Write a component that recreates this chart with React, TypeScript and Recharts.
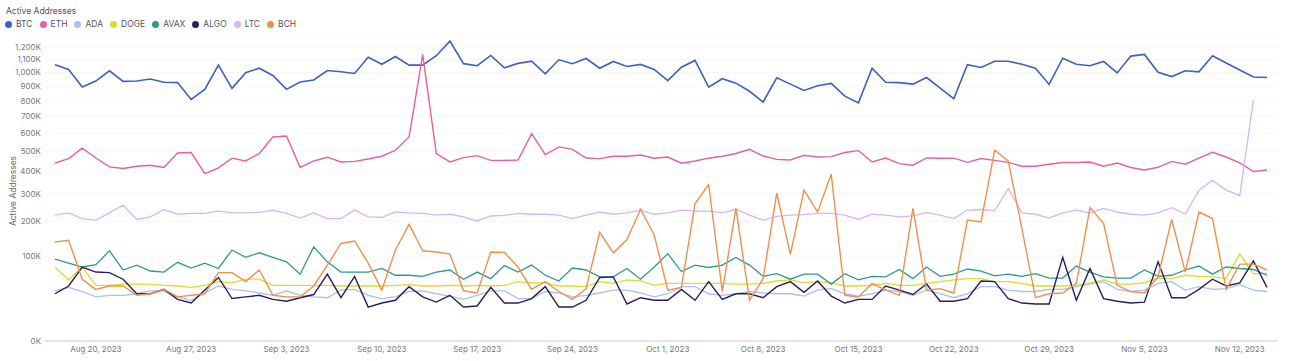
import { LineChart, Line, XAxis, YAxis, CartesianGrid } from "recharts";

// daily, Aug 17 2023 .. Nov 14 2023 (values in thousands of addresses)
const dates = [
  "Aug 17, 2023", "Aug 18, 2023", "Aug 19, 2023", "Aug 20, 2023", "Aug 21, 2023", "Aug 22, 2023", "Aug 23, 2023",
  "Aug 24, 2023", "Aug 25, 2023", "Aug 26, 2023", "Aug 27, 2023", "Aug 28, 2023", "Aug 29, 2023", "Aug 30, 2023",
  "Aug 31, 2023", "Sep 1, 2023", "Sep 2, 2023", "Sep 3, 2023", "Sep 4, 2023", "Sep 5, 2023", "Sep 6, 2023",
  "Sep 7, 2023", "Sep 8, 2023", "Sep 9, 2023", "Sep 10, 2023", "Sep 11, 2023", "Sep 12, 2023", "Sep 13, 2023",
  "Sep 14, 2023", "Sep 15, 2023", "Sep 16, 2023", "Sep 17, 2023", "Sep 18, 2023", "Sep 19, 2023", "Sep 20, 2023",
  "Sep 21, 2023", "Sep 22, 2023", "Sep 23, 2023", "Sep 24, 2023", "Sep 25, 2023", "Sep 26, 2023", "Sep 27, 2023",
  "Sep 28, 2023", "Sep 29, 2023", "Sep 30, 2023", "Oct 1, 2023", "Oct 2, 2023", "Oct 3, 2023", "Oct 4, 2023",
  "Oct 5, 2023", "Oct 6, 2023", "Oct 7, 2023", "Oct 8, 2023", "Oct 9, 2023", "Oct 10, 2023", "Oct 11, 2023",
  "Oct 12, 2023", "Oct 13, 2023", "Oct 14, 2023", "Oct 15, 2023", "Oct 16, 2023", "Oct 17, 2023", "Oct 18, 2023",
  "Oct 19, 2023", "Oct 20, 2023", "Oct 21, 2023", "Oct 22, 2023", "Oct 23, 2023", "Oct 24, 2023", "Oct 25, 2023",
  "Oct 26, 2023", "Oct 27, 2023", "Oct 28, 2023", "Oct 29, 2023", "Oct 30, 2023", "Oct 31, 2023", "Nov 1, 2023",
  "Nov 2, 2023", "Nov 3, 2023", "Nov 4, 2023", "Nov 5, 2023", "Nov 6, 2023", "Nov 7, 2023", "Nov 8, 2023",
  "Nov 9, 2023", "Nov 10, 2023", "Nov 11, 2023", "Nov 12, 2023", "Nov 13, 2023", "Nov 14, 2023",
];

const tickDates = [
  "Aug 20, 2023", "Aug 27, 2023", "Sep 3, 2023", "Sep 10, 2023", "Sep 17, 2023", "Sep 24, 2023", "Oct 1, 2023",
  "Oct 8, 2023", "Oct 15, 2023", "Oct 22, 2023", "Oct 29, 2023", "Nov 5, 2023", "Nov 12, 2023",
];

const yTicks = [0, 100, 200, 300, 400, 500, 600, 700, 800, 900, 1000, 1100, 1200];

const btc = [
  1060, 1024, 895, 938, 1014, 936, 938, 953, 929, 927, 810, 879, 1057, 886, 1000, 1033, 979, 879, 931, 946,
  1016, 1006, 994, 1118, 1063, 1124, 1057, 1057, 1130, 1248, 1068, 1052, 1132, 1036, 1070, 1087, 991, 1098, 1068, 1108,
  1033, 1085, 1046, 1062, 1024, 941, 1041, 1093, 895, 955, 923, 866, 793, 962, 916, 872, 905, 921, 832, 787,
  1033, 929, 927, 916, 964, 888, 815, 1060, 1039, 1087, 1087, 1063, 1033, 914, 1110, 1063, 1052, 1085, 998, 1127,
  1140, 1003, 971, 1014, 1006, 1130, 1073, 1019, 968, 964,
];

const eth = [
  440, 462, 516, 465, 421, 413, 424, 429, 418, 491, 493, 389, 416, 464, 450, 488, 578, 583, 418, 450,
  469, 445, 448, 460, 474, 505, 578, 1140, 488, 445, 467, 477, 453, 452, 455, 597, 482, 523, 510, 465,
  462, 474, 474, 480, 464, 470, 439, 450, 464, 474, 488, 510, 475, 458, 455, 479, 470, 472, 493, 503,
  445, 465, 437, 429, 465, 464, 464, 443, 462, 453, 443, 424, 424, 434, 442, 442, 445, 424, 440, 418,
  406, 419, 448, 434, 464, 494, 470, 440, 399, 406,
];

const ada = [
  35, 40, 34, 27, 29, 29, 31, 35, 35, 27, 23, 32, 42, 37, 35, 32, 29, 35, 29, 27, 26, 36, 37, 29,
  25, 27, 34, 35, 31, 28, 24, 29, 35, 35, 25, 25, 34, 32, 27, 29, 32, 36, 36, 32, 27, 31, 41,
  41, 31, 29, 31, 34, 32, 31, 31, 28, 36, 38, 31, 28, 31, 36, 34, 29, 36, 31, 26, 31, 41, 41, 36,
  34, 34, 37, 37, 41, 45, 49, 37, 34, 36, 46, 49, 36, 41, 37, 38, 44, 36, 34,
];

const doge = [
  76, 52, 76, 43, 43, 45, 45, 45, 43, 42, 40, 43, 49, 47, 53, 53, 43, 43, 43, 43, 43, 42, 42, 42,
  42, 43, 44, 42, 42, 43, 42, 43, 42, 43, 49, 47, 47, 42, 42, 41, 49, 46, 52, 50, 43, 46, 46,
  46, 46, 46, 45, 45, 46, 50, 52, 47, 49, 47, 42, 42, 43, 46, 43, 43, 46, 49, 52, 54, 54, 49, 49,
  46, 42, 42, 42, 43, 47, 52, 45, 45, 47, 55, 54, 60, 58, 57, 54, 105, 63, 63,
];

const avax = [
  93, 84, 76, 81, 113, 70, 80, 68, 66, 86, 74, 84, 73, 115, 97, 108, 97, 87, 62, 123, 87, 66, 66, 66,
  73, 60, 60, 58, 66, 70, 53, 66, 54, 79, 66, 80, 60, 50, 74, 70, 57, 57, 73, 53, 76, 106, 67,
  80, 75, 80, 97, 80, 58, 63, 53, 62, 62, 45, 63, 52, 58, 57, 71, 54, 76, 58, 62, 72, 68, 59, 62,
  58, 63, 55, 55, 78, 66, 57, 55, 55, 70, 58, 60, 70, 78, 62, 76, 73, 71, 60,
];

const algo = [
  31, 42, 76, 66, 65, 53, 31, 31, 37, 24, 20, 36, 56, 25, 27, 29, 24, 22, 26, 30, 62, 26, 58, 16,
  20, 23, 41, 27, 21, 29, 16, 17, 40, 20, 20, 25, 41, 16, 16, 23, 56, 57, 19, 26, 23, 23, 37,
  23, 49, 24, 31, 31, 26, 41, 49, 33, 50, 28, 20, 24, 24, 42, 36, 30, 45, 22, 22, 25, 50, 49, 25,
  20, 19, 19, 97, 23, 73, 25, 22, 20, 21, 87, 26, 26, 37, 53, 42, 47, 89, 40,
];

const ltc = [
  220, 228, 208, 203, 228, 256, 205, 214, 240, 223, 226, 226, 234, 228, 228, 230, 238, 226, 210, 228, 208, 208, 238, 214,
  212, 231, 228, 226, 220, 223, 214, 200, 217, 219, 226, 223, 223, 220, 208, 220, 231, 223, 228, 238, 223, 228, 238,
  234, 234, 228, 241, 220, 203, 216, 220, 222, 226, 226, 220, 205, 223, 220, 214, 217, 229, 220, 208, 238, 240, 235, 323,
  228, 223, 210, 228, 238, 228, 244, 231, 223, 220, 228, 247, 223, 316, 359, 316, 294, 804, null,
];

const bch = [
  136, 141, 53, 37, 42, 42, 29, 31, 37, 27, 29, 31, 65, 65, 49, 70, 29, 27, 27, 42, 80, 132, 139, 84,
  36, 115, 189, 113, 110, 105, 35, 32, 110, 109, 76, 37, 49, 34, 24, 38, 164, 108, 143, 241, 156, 36, 40,
  262, 340, 34, 244, 23, 54, 304, 104, 316, 231, 386, 29, 27, 46, 36, 29, 244, 36, 38, 32, 203, 197, 505, 450,
  175, 26, 31, 32, 46, 247, 192, 43, 34, 32, 57, 205, 66, 231, 208, 37, 82, 82, 70,
];

const series = [
  { name: "BTC", color: "#3f60c0", values: btc, width: 1.6 },
  { name: "ETH", color: "#e062a8", values: eth, width: 1.4 },
  { name: "ADA", color: "#a9c1ec", values: ada, width: 1.3 },
  { name: "DOGE", color: "#dcdc2c", values: doge, width: 1.3 },
  { name: "AVAX", color: "#2e9a8f", values: avax, width: 1.3 },
  { name: "ALGO", color: "#2e1b5c", values: algo, width: 1.4 },
  { name: "LTC", color: "#dab4ef", values: ltc, width: 1.3 },
  { name: "BCH", color: "#ec9250", values: bch, width: 1.4 },
];

const data = dates.map((d, i) => {
  const row: Record<string, string | number | null> = { date: d };
  series.forEach((s) => {
    row[s.name] = s.values[i];
  });
  return row;
});

const FONT = "Inter, 'Noto Sans', sans-serif";

export default function App() {
  return (
    <div style={{ position: "absolute", left: 0, top: 0, width: 1292, height: 361, background: "#fff", fontFamily: FONT }}>
      <div style={{ position: "absolute", left: 6, top: 6, fontSize: 8.5, color: "#555" }}>Active Addresses</div>
      <div style={{ position: "absolute", left: 5, top: 19, display: "flex", alignItems: "center", fontSize: 8.5, color: "#555" }}>
        {series.map((s) => (
          <div key={s.name} style={{ display: "flex", alignItems: "center", marginRight: 7 }}>
            <span style={{ width: 7, height: 7, borderRadius: "50%", background: s.color, marginRight: 4, display: "inline-block" }} />
            {s.name}
          </div>
        ))}
      </div>
      <div style={{ position: "absolute", left: 13, top: 191, transform: "translate(-50%, -50%) rotate(-90deg)", fontSize: 8.5, color: "#666", whiteSpace: "nowrap" }}>
        Active Addresses
      </div>
      <LineChart width={1292} height={361} data={data} margin={{ top: 35, right: 14, bottom: 0, left: 0 }}>
        <CartesianGrid vertical={false} stroke="#efefef" strokeDasharray="2 2" />
        <XAxis
          dataKey="date"
          ticks={tickDates}
          interval={0}
          padding={{ left: 10, right: 11 }}
          tickLine={false}
          axisLine={{ stroke: "#cfcfcf" }}
          tick={{ fontSize: 8, fill: "#777", fontFamily: FONT }}
          tickSize={3}
          tickMargin={2}
          height={20}
        />
        <YAxis
          type="number"
          scale="sqrt"
          domain={[0, 1300]}
          ticks={yTicks}
          interval={0}
          width={45}
          tickLine={false}
          axisLine={false}
          tickSize={0}
          tickMargin={4}
          tick={{ fontSize: 8, fill: "#777", fontFamily: FONT }}
          tickFormatter={(v: number) => `${v.toLocaleString("en-US")}K`}
        />
        {series.map((s) => (
          <Line
            key={s.name}
            type="linear"
            dataKey={s.name}
            stroke={s.color}
            strokeWidth={s.width}
            dot={false}
            activeDot={false}
            isAnimationActive={false}
          />
        ))}
      </LineChart>
    </div>
  );
}
